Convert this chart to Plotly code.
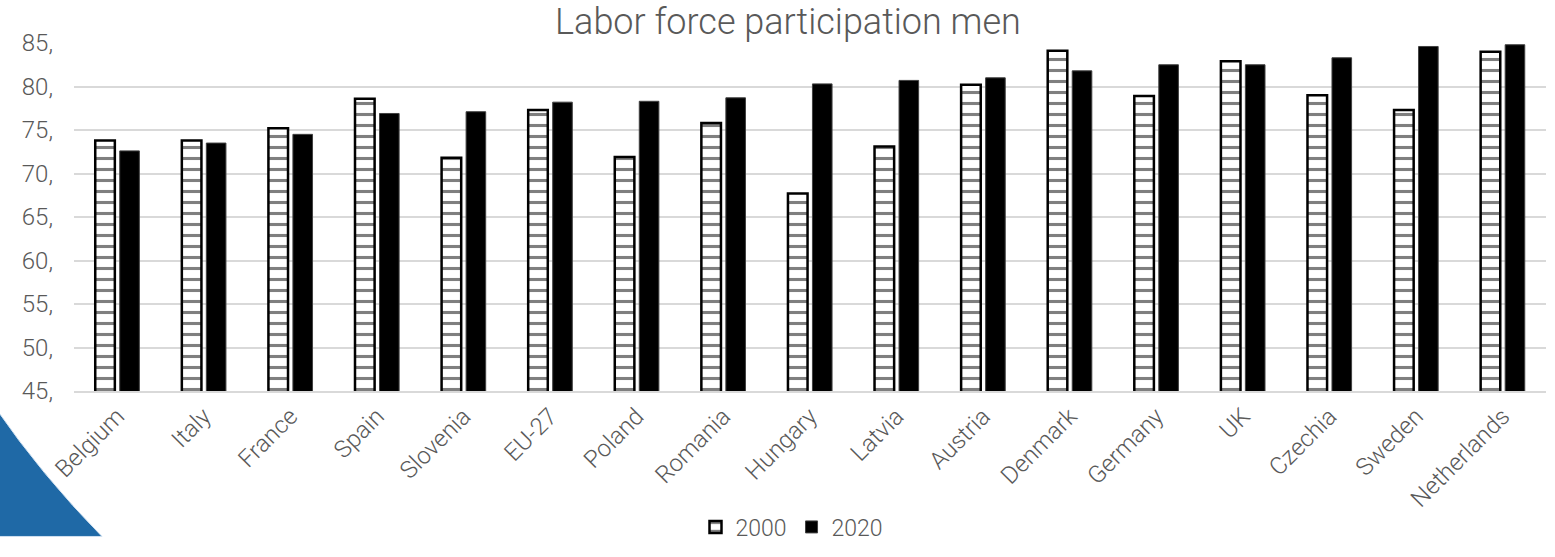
import plotly.graph_objects as go

countries = ["Belgium", "Italy", "France", "Spain", "Slovenia", "EU-27", "Poland", "Romania",
             "Hungary", "Latvia", "Austria", "Denmark", "Germany", "UK", "Czechia", "Sweden",
             "Netherlands"]
values_2000 = [73.8, 73.8, 75.2, 78.6, 71.8, 77.3, 71.9, 75.8, 67.7, 73.1, 80.2, 84.1, 78.9, 82.9, 79.0, 77.3, 84.0]
values_2020 = [72.6, 73.5, 74.5, 76.9, 77.1, 78.2, 78.3, 78.7, 80.3, 80.7, 81.0, 81.8, 82.5, 82.5, 83.3, 84.6, 84.8]
tick_vals = [45, 50, 55, 60, 65, 70, 75, 80, 85]
tick_text = ["45,", "50,", "55,", "60,", "65,", "70,", "75,", "80,", "85,"]

W, H = 1555, 557
L, R, T, B = 74, 9, 43, 148
FONT = "Roboto, Arial, sans-serif"
GRAY = "#595959"

fig = go.Figure()
fig.add_trace(go.Bar(
    name="2000", x=countries, y=values_2000,
    marker=dict(color="white", line=dict(color="black", width=2.5),
                pattern=dict(shape="-", size=11, solidity=0.28, fgcolor="black", bgcolor="white",
                             fillmode="overlay")),
))
fig.add_trace(go.Bar(
    name="2020", x=countries, y=values_2020,
    marker=dict(color="black", line=dict(color="#404040", width=1)),
))

# decorative blue corner shape (pixel -> paper coordinates)
pw, ph = W - L - R, H - T - B
def px(x):
    return (x - L) / pw
def py(y):
    return (H - B - y) / ph
path = (f"M {px(-5)},{py(426)} Q {px(42)},{py(498)} {px(102)},{py(562)} "
        f"L {px(-5)},{py(562)} Z")
fig.add_shape(type="path", path=path, xref="paper", yref="paper",
              fillcolor="#1F69A6", line=dict(color="#cfe0f0", width=1), layer="below")

fig.update_layout(
    width=W, height=H,
    margin=dict(l=L, r=R, t=T, b=B),
    paper_bgcolor="white", plot_bgcolor="white",
    font=dict(family=FONT, color=GRAY, size=23, weight=300),
    title=dict(text="Labor force participation men", x=(788) / W, xanchor="center",
               y=1 - 21 / H, yanchor="middle",
               font=dict(family=FONT, size=36, color=GRAY, weight=300)),
    barmode="group", bargap=0.434, bargroupgap=0.2,
    showlegend=True,
    legend=dict(orientation="h", x=px(792), xanchor="center", y=py(552), yanchor="middle",
                font=dict(family=FONT, size=23, color=GRAY, weight=300),
                itemwidth=30, traceorder="normal"),
    xaxis=dict(tickangle=-45, showgrid=False, showline=True, linecolor="#d9d9d9", linewidth=1.5,
               ticks="", tickfont=dict(size=24, color=GRAY)),
    yaxis=dict(range=[45, 85], tickvals=tick_vals, ticktext=tick_text, showgrid=True,
               gridcolor="#d9d9d9", gridwidth=1.5, zeroline=False, showline=False,
               ticks="", tickfont=dict(size=24, color=GRAY), ticklabelstandoff=20),
)

fig.write_html("out.html")
